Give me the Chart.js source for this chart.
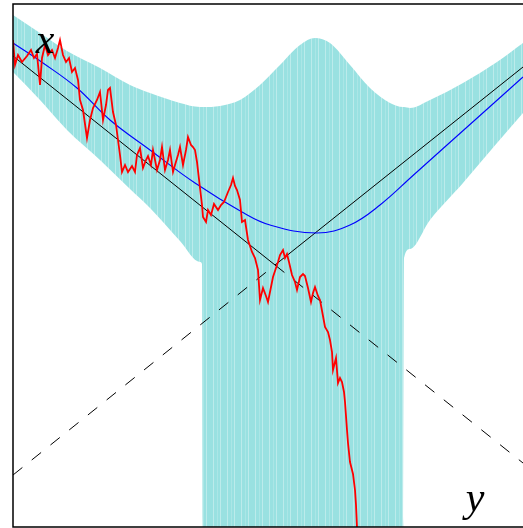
<!DOCTYPE html>
<html>
<head>
<meta charset="utf-8">
<script src="https://cdn.jsdelivr.net/npm/chart.js@4"></script>
<style>
  html, body { margin: 0; padding: 0; background: #fff; }
  canvas { display: block; }
</style>
</head>
<body>
<canvas id="pathChart" width="523" height="528"></canvas>
<script>
// Envelope band (shared x grid, upper and lower edge)
const bandX   = [0, 0.27, 0.54, 0.87, 1.17, 1.37, 1.67, 1.87, 1.89, 1.90, 2.07, 2.27, 2.47, 2.67, 2.87, 3.02, 3.17, 3.37, 3.57, 3.77, 3.90, 3.91, 3.97, 4.17, 4.50, 4.84, 5.10];
const bandTop = [5.12, 4.94, 4.76, 4.59, 4.42, 4.34, 4.24, 4.20, 4.20, 4.20, 4.21, 4.27, 4.42, 4.62, 4.82, 4.89, 4.84, 4.62, 4.39, 4.24, 4.20, 4.20, 4.19, 4.27, 4.44, 4.65, 4.84];
const bandLow = [4.55, 4.27, 3.97, 3.67, 3.38, 3.19, 2.86, 2.65, 2.63, -1, -1, -1, -1, -1, -1, -1, -1, -1, -1, -1, -1, 2.69, 2.78, 3.07, 3.44, 3.84, 4.14];

// Two straight lines crossing at the kink
const lineX  = [0, 2.62, 5.10];
const lineA  = [4.71, 2.62, 0.64];
const lineB  = [0.52, 2.62, 4.60];

// Smooth mean curve
const meanX = [0, 0.30, 0.64, 0.97, 1.37, 1.82, 2.29, 2.57, 3.04, 3.37, 3.67, 4.00, 4.34, 4.67, 5.10];
const meanY = [4.84, 4.64, 4.39, 4.07, 3.77, 3.44, 3.15, 3.02, 2.94, 3.02, 3.22, 3.515, 3.82, 4.115, 4.50];

// Sample path
const pathX = [0.00, 0.02, 0.05, 0.09, 0.14, 0.18, 0.21, 0.24, 0.27, 0.29, 0.32, 0.35, 0.39, 0.42, 0.45, 0.47, 0.50, 0.53, 0.56, 0.59,
  0.62, 0.65, 0.67, 0.70, 0.74, 0.77, 0.80, 0.84, 0.87, 0.90, 0.93, 0.95, 0.97, 1.00, 1.03, 1.05, 1.07, 1.09, 1.12, 1.15,
  1.19, 1.22, 1.24, 1.27, 1.30, 1.33, 1.35, 1.38, 1.40, 1.44, 1.47, 1.49, 1.52, 1.55, 1.57, 1.60, 1.62, 1.65, 1.67, 1.70,
  1.73, 1.75, 1.78, 1.80, 1.82, 1.84, 1.87, 1.89, 1.90, 1.93, 1.95, 1.98, 2.01, 2.05, 2.08, 2.11, 2.15, 2.18, 2.20, 2.22,
  2.24, 2.27, 2.29, 2.32, 2.35, 2.39, 2.42, 2.45, 2.47, 2.50, 2.53, 2.55, 2.57, 2.60, 2.63, 2.65, 2.67, 2.70, 2.72, 2.74,
  2.76, 2.79, 2.82, 2.84, 2.87, 2.90, 2.92, 2.95, 2.98, 3.00, 3.02, 3.05, 3.07, 3.10, 3.12, 3.15, 3.17, 3.19, 3.20, 3.22,
  3.23, 3.25, 3.27, 3.29, 3.31, 3.32, 3.34, 3.35, 3.37, 3.39, 3.40, 3.42, 3.43, 3.44, 3.45];
const pathY = [4.87, 4.62, 4.72, 4.65, 4.71, 4.77, 4.69, 4.73, 4.42, 4.69, 4.82, 4.72, 4.77, 4.69, 4.79, 4.87, 4.72, 4.65, 4.69, 4.55,
  4.59, 4.47, 4.27, 4.17, 3.89, 4.07, 4.19, 4.27, 4.35, 4.07, 4.22, 4.37, 4.39, 4.15, 4.02, 3.87, 3.72, 3.55, 3.62, 3.55,
  3.61, 3.55, 3.72, 3.79, 3.59, 3.67, 3.71, 3.62, 3.77, 3.57, 3.67, 3.80, 3.57, 3.67, 3.77, 3.55, 3.62, 3.72, 3.80, 3.62,
  3.77, 3.90, 3.82, 3.80, 3.77, 3.65, 3.39, 3.22, 3.10, 3.05, 3.17, 3.12, 3.23, 3.17, 3.22, 3.25, 3.35, 3.42, 3.49, 3.41,
  3.37, 3.27, 3.05, 3.07, 2.87, 2.75, 2.69, 2.57, 2.27, 2.39, 2.31, 2.25, 2.35, 2.50, 2.59, 2.65, 2.72, 2.77, 2.69, 2.73,
  2.65, 2.52, 2.45, 2.37, 2.50, 2.53, 2.51, 2.39, 2.25, 2.34, 2.40, 2.31, 2.27, 2.11, 2.00, 1.95, 1.87, 1.75, 1.57, 1.65,
  1.69, 1.44, 1.49, 1.45, 1.35, 1.25, 0.97, 0.84, 0.65, 0.57, 0.53, 0.37, 0.22, 0.00, -0.18];

const pts = (xs, ys) => xs.map((x, i) => ({ x, y: ys[i] }));

// Turquoise fill with faint vertical streaks
function bandPattern() {
  const c = document.createElement('canvas');
  c.width = 14; c.height = 1;
  const g = c.getContext('2d');
  g.fillStyle = '#99e1e1';
  g.fillRect(0, 0, 14, 1);
  g.fillStyle = 'rgba(255,255,255,0.35)';
  g.fillRect(3, 0, 1, 1);
  g.fillRect(10, 0, 1, 1);
  g.fillStyle = 'rgba(255,255,255,0.18)';
  g.fillRect(7, 0, 1, 1);
  return g.createPattern(c, 'repeat');
}

const frame = {
  id: 'frame',
  afterDraw(chart) {
    const { ctx, chartArea: a } = chart;
    ctx.save();
    ctx.strokeStyle = '#000';
    ctx.lineWidth = 1.5;
    ctx.beginPath();
    ctx.moveTo(a.right + 2, a.top);
    ctx.lineTo(a.left, a.top);
    ctx.lineTo(a.left, a.bottom);
    ctx.lineTo(a.right + 2, a.bottom);
    ctx.stroke();
    ctx.restore();
  }
};

const axisNames = {
  id: 'axisNames',
  afterDraw(chart) {
    const { ctx, scales: { x, y } } = chart;
    ctx.save();
    ctx.fillStyle = '#000';
    ctx.font = 'italic 42px "Liberation Serif", serif';
    ctx.textAlign = 'center';
    ctx.textBaseline = 'alphabetic';
    ctx.fillText('x', x.getPixelForValue(0.32), y.getPixelForValue(4.74));
    ctx.fillText('y', x.getPixelForValue(4.62), y.getPixelForValue(0.16));
    ctx.restore();
  }
};

const crossAt = lineX[1];
const fill = bandPattern();

new Chart(document.getElementById('pathChart'), {
  type: 'line',
  data: {
    datasets: [
      { data: pts(pathX, pathY), borderColor: '#ff0000', borderWidth: 1.8, pointRadius: 0, tension: 0, order: 0 },
      { data: pts(meanX, meanY), borderColor: '#0000ff', borderWidth: 1.1, pointRadius: 0, tension: 0.4, order: 1 },
      { data: pts(lineX, lineA), borderColor: '#000', borderWidth: 1, pointRadius: 0, order: 2,
        segment: { borderDash: c => c.p0.parsed.x >= crossAt ? [12, 12] : undefined } },
      { data: pts(lineX, lineB), borderColor: '#000', borderWidth: 1, pointRadius: 0, order: 2,
        segment: { borderDash: c => c.p0.parsed.x < crossAt ? [12, 12] : undefined } },
      { data: pts(bandX, bandTop), borderWidth: 0, borderColor: 'rgba(0,0,0,0)', backgroundColor: fill,
        pointRadius: 0, cubicInterpolationMode: 'monotone', fill: '+1', order: 5 },
      { data: pts(bandX, bandLow), borderWidth: 0, borderColor: 'rgba(0,0,0,0)',
        pointRadius: 0, cubicInterpolationMode: 'monotone', fill: false, order: 6 }
    ]
  },
  options: {
    responsive: false,
    animation: false,
    layout: { padding: { left: 13, top: 4, right: 0, bottom: 1 } },
    scales: {
      x: { type: 'linear', min: 0, max: 5.1, display: false },
      y: { type: 'linear', min: 0, max: 5.23, display: false }
    },
    plugins: {
      legend: { display: false },
      tooltip: { enabled: false }
    }
  },
  plugins: [frame, axisNames]
});
</script>
</body>
</html>
